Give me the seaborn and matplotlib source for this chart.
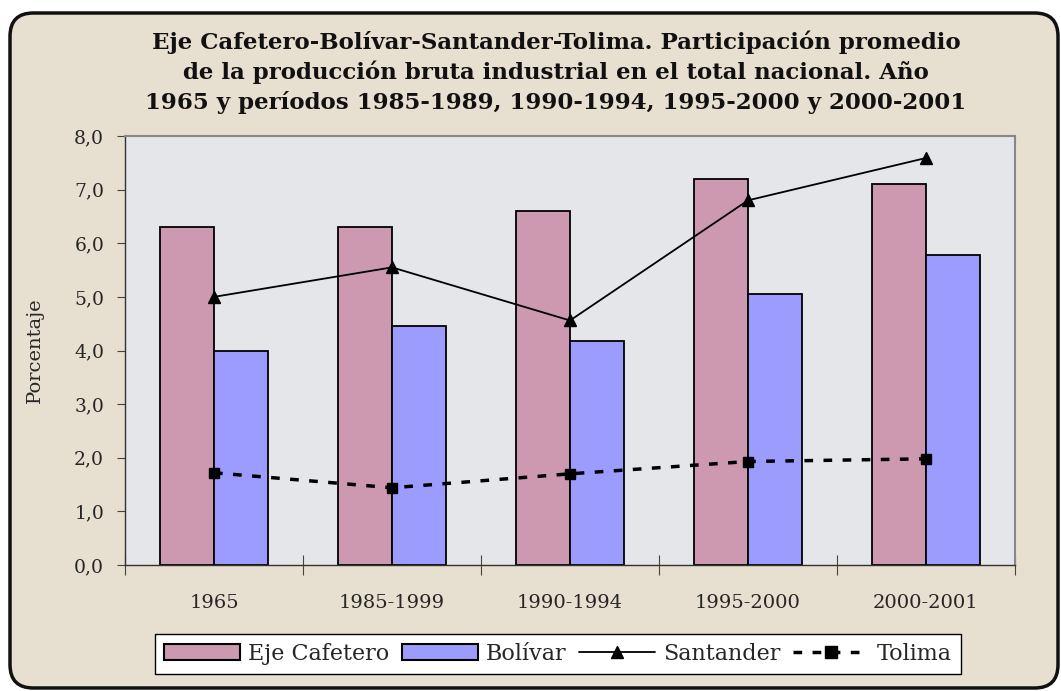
import numpy as np
import pandas as pd
import matplotlib
matplotlib.use("Agg")
import matplotlib.pyplot as plt
import seaborn as sns
from matplotlib.patches import FancyBboxPatch
from matplotlib.lines import Line2D
from matplotlib.patches import Patch

categories = ["1965", "1985-1999", "1990-1994", "1995-2000", "2000-2001"]
eje_cafetero = [6.3, 6.3, 6.6, 7.2, 7.1]
bolivar = [4.0, 4.45, 4.17, 5.05, 5.79]
santander = [5.0, 5.55, 4.56, 6.8, 7.59]
tolima = [1.72, 1.44, 1.70, 1.93, 1.98]
yticks = [0, 1, 2, 3, 4, 5, 6, 7, 8]
title = ("Eje Cafetero-Bolívar-Santander-Tolima. Participación promedio\n"
         "de la producción bruta industrial en el total nacional. Año\n"
         "1965 y períodos 1985-1989, 1990-1994, 1995-2000 y 2000-2001")

sns.set_theme(style="white")
plt.rcParams['font.family'] = ['DejaVu Serif']

df = pd.DataFrame({
    "cat": categories * 2,
    "val": eje_cafetero + bolivar,
    "serie": ["Eje Cafetero"] * 5 + ["Bolívar"] * 5,
})

W, H = 1061, 691
bg = "#e7dfcf"
fig = plt.figure(figsize=(10.61, 6.91), dpi=100)
fig.patch.set_facecolor("white")
border = FancyBboxPatch((10 / W, 3 / H), 1048 / W, 675 / H,
                        boxstyle="round,pad=0,rounding_size=0.022",
                        transform=fig.transFigure, facecolor=bg,
                        edgecolor="#111111", linewidth=2.5, zorder=-5,
                        mutation_aspect=W / H)
fig.patches.append(border)

ax = fig.add_axes([125 / W, (H - 565) / H, 890 / W, 429 / H])
ax.set_zorder(2)
ax.set_facecolor("#e4e6e9")

sns.barplot(data=df, x="cat", y="val", hue="serie",
            palette={"Eje Cafetero": "#cc99b1", "Bolívar": "#9c9cff"},
            width=0.61, edgecolor="black", linewidth=1.3, ax=ax,
            legend=False, saturation=1)

xs = np.arange(len(categories))
ax.plot(xs, santander, color="black", lw=1.3, marker="^", markersize=8, zorder=5)
ax.plot(xs, tolima, color="black", lw=2.5, linestyle=(0, (2.5, 3)),
        marker="s", markersize=7, zorder=5)

ax.set_xlim(-0.5, 4.5)
ax.set_ylim(0, 8)
ax.set_yticks(yticks)
ax.set_yticklabels([f"{v:.1f}".replace(".", ",") for v in yticks], fontsize=13.5)
ax.set_xticks(np.arange(-0.5, 5, 1), minor=False)
ax.set_xticklabels([])
ax.set_xticks(xs, minor=True)
ax.set_xticklabels(categories, minor=True, fontsize=14)
ax.tick_params(axis="x", which="major", direction="inout", length=14, width=0.8, color="#444444", bottom=True)
ax.tick_params(axis="x", which="minor", length=0, pad=21)
ax.tick_params(axis="y", direction="out", length=6, width=0.8, color="#444444", left=True, pad=9)
ax.set_xlabel("")
ax.set_ylabel("Porcentaje", fontsize=14)
ax.yaxis.set_label_coords(-(125 - 44) / 890, 0.5)
for s in ["top", "right"]:
    ax.spines[s].set_color("#888888")
    ax.spines[s].set_linewidth(1.5)
for s in ["left", "bottom"]:
    ax.spines[s].set_color("#333333")
    ax.spines[s].set_linewidth(1.0)

fig.text(556 / W, 1 - 72 / H, title, ha="center", va="center",
         fontsize=16.5, fontweight="bold", linespacing=1.37, color="#111111")

handles = [
    Patch(facecolor="#cc99b1", edgecolor="black", linewidth=1.5),
    Patch(facecolor="#9c9cff", edgecolor="black", linewidth=1.5),
    Line2D([0], [0], color="black", lw=1.3, marker="^", markersize=9),
    Line2D([0], [0], color="black", lw=2.5, linestyle=(0, (2.5, 3)), marker="s", markersize=8),
]
labels = ["Eje Cafetero", "Bolívar", "Santander", "Tolima"]
leg = fig.legend(handles, labels, loc="center", bbox_to_anchor=(558 / W, 1 - 654 / H),
                 ncol=4, fontsize=16, frameon=True, fancybox=False, framealpha=1,
                 handlelength=3.4, handletextpad=0.35, columnspacing=0.6,
                 borderpad=0.4, handleheight=0.7, borderaxespad=0)
leg.get_frame().set_edgecolor("black")
leg.get_frame().set_linewidth(1.0)
leg.get_frame().set_facecolor("white")

fig.savefig("out.png", dpi=100, facecolor=fig.get_facecolor())
